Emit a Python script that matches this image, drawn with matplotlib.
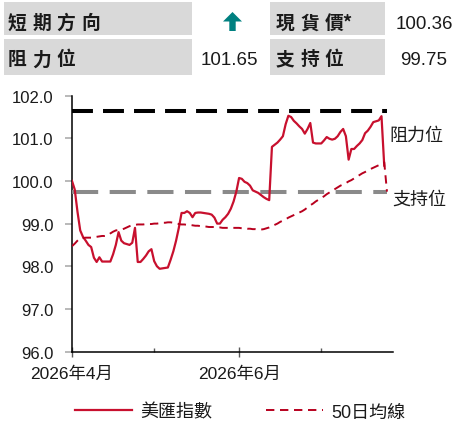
import matplotlib
matplotlib.use('Agg')
import matplotlib.pyplot as plt
import matplotlib.dates as mdates
import matplotlib.transforms as mtransforms
from matplotlib.patches import Rectangle, Polygon
from matplotlib.ticker import FuncFormatter, FixedLocator
import numpy as np
import pandas as pd

# ---------------- data ----------------
start_date = '2026-04-01'
price = [100.00, 99.80, 99.28, 98.84, 98.69, 98.60, 98.50, 98.45, 98.20, 98.10,
         98.21, 98.11, 98.11, 98.11, 98.11, 98.28, 98.50, 98.80, 98.60, 98.54,
         98.52, 98.50, 98.55, 98.90, 98.10, 98.10, 98.17, 98.25, 98.35, 98.40,
         98.12, 98.00, 97.94, 97.95, 97.96, 97.97, 98.15, 98.35, 98.60, 98.90,
         99.25, 99.25, 99.29, 99.25, 99.15, 99.25, 99.26, 99.26, 99.25, 99.24,
         99.23, 99.21, 99.14, 99.00, 99.00, 99.09, 99.15, 99.23, 99.35, 99.52,
         99.75, 100.07, 100.05, 99.98, 99.95, 99.89, 99.78, 99.75, 99.72, 99.67,
         99.62, 99.58, 99.55, 100.80, 100.85, 100.90, 100.97, 101.05, 101.33, 101.53,
         101.50, 101.41, 101.35, 101.28, 101.22, 101.11, 101.22, 101.36, 100.90, 100.88,
         100.88, 100.88, 100.95, 101.03, 100.99, 100.97, 100.99, 101.05, 101.15, 101.22,
         101.05, 100.50, 100.75, 100.75, 100.82, 100.88, 100.96, 101.12, 101.18, 101.27,
         101.38, 101.40, 101.42, 101.52, 100.36]
ma50 = [98.47, 98.53, 98.60, 98.66, 98.66, 98.67, 98.67, 98.67, 98.68, 98.69,
        98.70, 98.71, 98.71, 98.72, 98.77, 98.81, 98.84, 98.85, 98.86, 98.88,
        98.91, 98.94, 98.96, 98.97, 98.98, 98.98, 98.98, 98.99, 98.99, 98.99,
        99.00, 99.00, 99.01, 99.02, 99.02, 99.03, 99.03, 99.02, 99.00, 98.99,
        98.98, 98.98, 98.97, 98.97, 98.96, 98.95, 98.95, 98.94, 98.94, 98.93,
        98.92, 98.92, 98.92, 98.91, 98.91, 98.90, 98.90, 98.90, 98.90, 98.90,
        98.90, 98.90, 98.89, 98.89, 98.88, 98.88, 98.87, 98.87, 98.86, 98.86,
        98.87, 98.89, 98.91, 98.94, 98.97, 99.00, 99.04, 99.07, 99.10, 99.14,
        99.17, 99.20, 99.23, 99.26, 99.29, 99.33, 99.38, 99.43, 99.47, 99.52,
        99.56, 99.60, 99.64, 99.69, 99.73, 99.77, 99.81, 99.85, 99.89, 99.92,
        99.95, 99.99, 100.02, 100.06, 100.10, 100.14, 100.18, 100.21, 100.25, 100.28,
        100.31, 100.34, 100.37, 100.41, 100.44, 99.75]
resistance = 101.65
support = 99.75
spot = 100.36
y_ticks = [96.0, 97.0, 98.0, 99.0, 100.0, 101.0, 102.0]
major_months = ['2026-04-01', '2026-06-01']
minor_months = ['2026-05-01', '2026-07-01']
series_labels = ['美匯指數', '50日均線']
level_labels = ['阻力位', '支持位']
header_left = ['短期方向', '阻力位']
header_right = ['現貨價*', '支持位']

# ---------------- style ----------------
W, H = 457, 427
RED = '#C8102E'
RED2 = '#B8001E'
GRAY_LINE = '#8a8a8a'
TXT = '#1a1a1a'
BOX = '#d9d9d9'
TEAL = '#008080'
NUM_FONT = ['Liberation Sans Narrow', 'Liberation Sans', 'Noto Sans CJK TC']
CJK_FONT = ['Noto Sans CJK TC', 'DejaVu Sans']

fig = plt.figure(figsize=(W / 100, H / 100), dpi=100)
fig.patch.set_facecolor('white')
px = mtransforms.Affine2D().scale(1 / W, -1 / H).translate(0, 1) + fig.transFigure

ax_left, ax_right, ax_top, ax_bottom = 72, 393, 96.7, 352.5
ax = fig.add_axes([ax_left / W, 1 - ax_bottom / H, (ax_right - ax_left) / W, (ax_bottom - ax_top) / H])

dates = pd.date_range(start_date, periods=len(ma50), freq='D')
x0 = mdates.date2num(pd.Timestamp(start_date))

l1, = ax.plot(dates[:len(price)], price, color=RED, lw=1.6, zorder=4, solid_joinstyle='round')
l2, = ax.plot(dates, ma50, color=RED2, lw=1.4, ls=(0, (4.3, 2.9)), zorder=4)
ax.axhline(resistance, xmin=0, xmax=0.982, color='black', lw=2.9, ls=(0, (5.2, 2.5)), zorder=3)
ax.axhline(support, xmin=0, xmax=0.982, color=GRAY_LINE, lw=2.9, ls=(0, (6.5, 2.85)), zorder=3)

ax.set_xlim(x0, x0 + 117.2)
ax.set_ylim(96, 102)
ax.set_yticks(y_ticks)
ax.yaxis.set_major_formatter(FuncFormatter(lambda v, p: f'{v:.1f}'))
ax.xaxis.set_major_locator(FixedLocator([mdates.date2num(pd.Timestamp(d)) for d in major_months]))
ax.xaxis.set_minor_locator(FixedLocator([mdates.date2num(pd.Timestamp(d)) for d in minor_months]))
ax.xaxis.set_major_formatter(FuncFormatter(lambda v, p: f'{mdates.num2date(v).year}年{mdates.num2date(v).month}月'))

for s in ['top', 'right']:
    ax.spines[s].set_visible(False)
for s in ['left', 'bottom']:
    ax.spines[s].set_color('black')
    ax.spines[s].set_linewidth(1.1)

ax.tick_params(axis='y', direction='out', length=5, width=1.1, color='#a6a6a6',
               labelsize=12, pad=8.5, labelcolor=TXT)
ax.tick_params(axis='x', which='major', direction='inout', length=7.5, width=1.0,
               color='#595959', labelsize=12.5, pad=6.0, labelcolor=TXT)
ax.tick_params(axis='x', which='minor', direction='in', length=3, width=1.0, color='#595959')
ax.yaxis.get_major_ticks()[0].tick1line.set_color('black')
for lab in ax.get_xticklabels() + ax.get_yticklabels():
    lab.set_fontfamily(NUM_FONT)

# level labels
fig.text(389, 140.5, level_labels[0], transform=px, fontsize=13, family=CJK_FONT,
         color=TXT, ha='left', va='baseline')
fig.text(392, 204.5, level_labels[1], transform=px, fontsize=13, family=CJK_FONT,
         color=TXT, ha='left', va='baseline')

# legend
leg = fig.legend([l1, l2], series_labels, loc='center', bbox_to_anchor=(240 / W, 1 - 413 / H),
                 ncol=2, frameon=False, handlelength=3.15, handletextpad=0.45,
                 columnspacing=3.0, prop={'family': NUM_FONT, 'size': 13})
for t in leg.get_texts():
    t.set_color(TXT)

# header table
for (x, y, w, h) in [(4, 3, 188, 33), (4, 40, 188, 36), (270, 3, 115, 33), (270, 40, 115, 36)]:
    fig.patches.append(Rectangle((x, y), w, h, transform=px, facecolor=BOX, edgecolor='none'))

baselines = [29.2, 65.4]
pitch = 24.6
for row, word in enumerate(header_left):
    for i, ch in enumerate(word):
        fig.text(7.5 + i * pitch, baselines[row], ch, transform=px, fontsize=13.5, family=CJK_FONT,
                 weight='bold', color=TXT, ha='left', va='baseline')
for row, word in enumerate(header_right):
    chars = list(word)
    if chars[-1] == '*':
        chars = chars[:-2] + [chars[-2] + '*']
    for i, ch in enumerate(chars):
        fig.text(275.5 + i * pitch, baselines[row], ch, transform=px, fontsize=13.5, family=CJK_FONT,
                 weight='bold', color=TXT, ha='left', va='baseline')

fig.text(453, baselines[0] - 0.5, f'{spot:.2f}', transform=px, fontsize=13.5, family=NUM_FONT,
         color=TXT, ha='right', va='baseline')
fig.text(258, baselines[1] - 0.5, f'{resistance:.2f}', transform=px, fontsize=13.5, family=NUM_FONT,
         color=TXT, ha='right', va='baseline')
fig.text(424, baselines[1] - 0.5, f'{support:.2f}', transform=px, fontsize=13.5, family=NUM_FONT,
         color=TXT, ha='center', va='baseline')

# direction arrow (up)
cx = 232.5
arrow_pts = [(cx, 13), (cx + 9.5, 22.5), (cx + 3.2, 22.5), (cx + 3.2, 32), (cx - 3.2, 32),
             (cx - 3.2, 22.5), (cx - 9.5, 22.5)]
fig.patches.append(Polygon(arrow_pts, closed=True, transform=px, facecolor=TEAL, edgecolor='none'))

fig.savefig('out.png', dpi=100)
